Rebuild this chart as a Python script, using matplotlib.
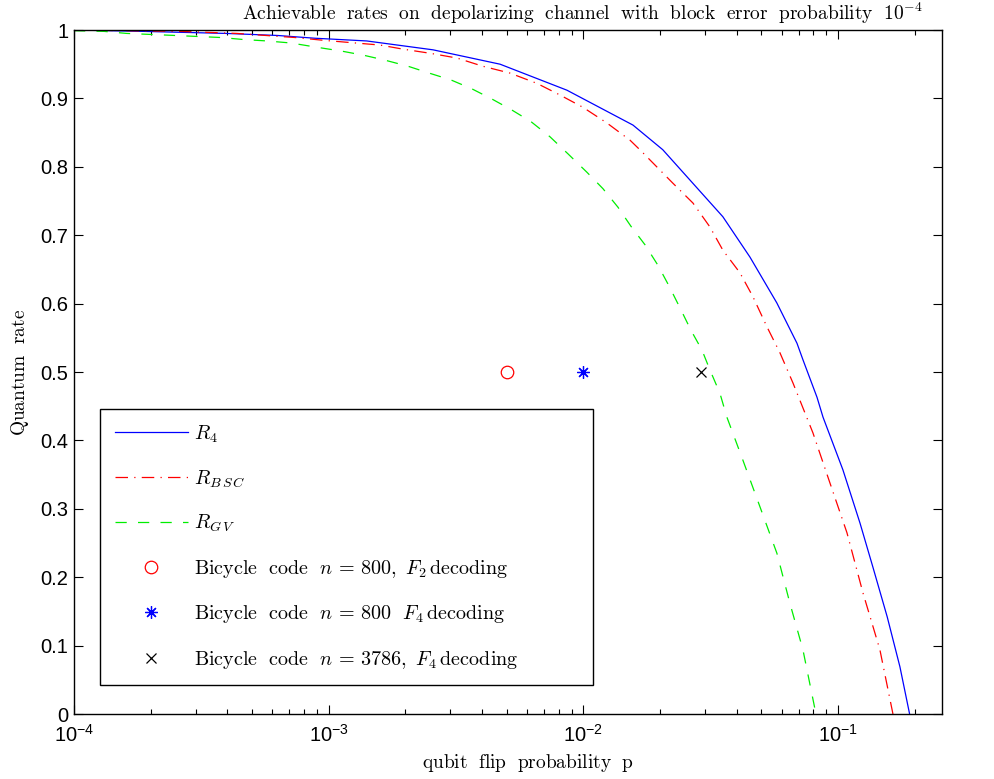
import matplotlib
matplotlib.use('Agg')
import matplotlib.pyplot as plt
from matplotlib.ticker import FixedLocator, FuncFormatter, LogLocator, NullFormatter
import numpy as np

plt.rcParams['font.family'] = ['Liberation Sans', 'DejaVu Sans']
plt.rcParams['mathtext.fontset'] = 'cm'

# ---- data ----
p_r4 = [1e-4, 1.85e-4, 3.95e-4, 6.3e-4, 8.8e-4, 1.41e-3, 2.57e-3, 4.71e-3, 8.62e-3,
        0.01566, 0.0205, 0.0269, 0.0353, 0.0451, 0.0575, 0.0690, 0.0728, 0.0827,
        0.0873, 0.1045, 0.122, 0.137, 0.156, 0.175, 0.191]
r_r4 = [1.0, 0.998, 0.995, 0.992, 0.988, 0.984, 0.971, 0.950, 0.912,
        0.861, 0.825, 0.776, 0.727, 0.668, 0.601, 0.542, 0.518, 0.463,
        0.434, 0.357, 0.279, 0.215, 0.142, 0.069, 0.0]

p_bsc = [1e-4, 2.61e-4, 4.36e-4, 5.67e-4, 7.38e-4, 9.5e-4, 1.59e-3, 1.96e-3, 2.50e-3,
         3.19e-3, 4.03e-3, 5.15e-3, 6.57e-3, 8.09e-3, 9.96e-3, 0.01238, 0.01524,
         0.01698, 0.02247, 0.02694, 0.03141, 0.03532, 0.04120, 0.04634, 0.05260,
         0.05916, 0.06653, 0.07970, 0.0929, 0.1084, 0.1253, 0.1460, 0.1643]
r_bsc = [1.0, 0.998, 0.995, 0.992, 0.989, 0.985, 0.978, 0.972, 0.966,
         0.959, 0.947, 0.937, 0.922, 0.905, 0.887, 0.864, 0.839,
         0.822, 0.776, 0.747, 0.712, 0.678, 0.645, 0.610, 0.566,
         0.528, 0.484, 0.411, 0.338, 0.265, 0.177, 0.094, 0.0]

p_gv = [1e-4, 1.31e-4, 1.61e-4, 2.49e-4, 3.78e-4, 4.65e-4, 5.72e-4, 7.11e-4, 8.91e-4,
        1.13e-3, 1.376e-3, 1.66e-3, 2.05e-3, 2.48e-3, 3.02e-3, 3.65e-3, 4.38e-3,
        5.24e-3, 6.23e-3, 7.39e-3, 8.70e-3, 0.01033, 0.01194, 0.01367, 0.01538,
        0.01746, 0.01963, 0.02168, 0.02394, 0.02646, 0.02923, 0.03141, 0.03437,
        0.03661, 0.04232, 0.04936, 0.05754, 0.06471, 0.07280, 0.08190]
r_gv = [0.999, 0.998, 0.995, 0.992, 0.989, 0.986, 0.984, 0.981, 0.975,
        0.969, 0.963, 0.956, 0.947, 0.937, 0.927, 0.914, 0.899,
        0.883, 0.866, 0.844, 0.819, 0.792, 0.768, 0.741, 0.713,
        0.686, 0.656, 0.626, 0.594, 0.561, 0.532, 0.503, 0.469,
        0.434, 0.371, 0.303, 0.235, 0.162, 0.094, 0.0]

code_p = [0.005, 0.01, 0.029]
code_r = [0.5, 0.5, 0.5]

series_labels = [r'$R_4$', r'$R_{B\,S\,C}$', r'$R_{G\,V}$']
code_labels = [r'$\mathrm{Bicycle\ \ code}\ \ n\,=\,800,\ F_2\,\mathrm{decoding}$',
               r'$\mathrm{Bicycle\ \ code}\ \ n\,=\,800\ \ F_4\,\mathrm{decoding}$',
               r'$\mathrm{Bicycle\ \ code}\ \ n\,=\,3786,\ F_4\,\mathrm{decoding}$']
x_ticks = [1e-4, 1e-3, 1e-2, 1e-1]
y_ticks = [0, 0.1, 0.2, 0.3, 0.4, 0.5, 0.6, 0.7, 0.8, 0.9, 1.0]

title = r'$\mathrm{Achievable\ \ rates\ \ on\ \ depolarizing\ \ channel\ \ with\ \ block\ \ error\ \ probability}\ \ 10^{-4}$'
xlab = r'$\mathrm{qubit\ \ flip\ \ probability\ \ p}$'
ylab = r'$\mathrm{Quantum\ \ rate}$'

# ---- figure ----
W, H = 994, 779
fig = plt.figure(figsize=(W / 100, H / 100), dpi=100)
ax = fig.add_axes([74 / W, (H - 714) / H, 868 / W, 684 / H])

ax.plot(p_r4, r_r4, color='#0000ff', lw=0.9, label=series_labels[0])
ax.plot(p_bsc, r_bsc, color='#ff0000', lw=0.9, dashes=(10, 5, 1, 5), label=series_labels[1])
ax.plot(p_gv, r_gv, color='#00ee00', lw=0.9, dashes=(9, 9), label=series_labels[2])
ax.plot(code_p[0:1], code_r[0:1], ls='none', marker='o', mfc='none', mec='#ff0000',
        ms=9, mew=0.9, label=code_labels[0])
ax.plot(code_p[1:2], code_r[1:2], ls='none', marker=(8, 2, 0), color='#0000ff',
        ms=9, mew=0.9, label=code_labels[1])
ax.plot(code_p[2:3], code_r[2:3], ls='none', marker='x', color='black',
        ms=7, mew=0.9, label=code_labels[2])

ax.set_xscale('log')
ax.set_xlim(1e-4, 0.256)
ax.set_ylim(0, 1)

ax.xaxis.set_major_locator(FixedLocator(x_ticks))
ax.xaxis.set_major_formatter(FuncFormatter(
    lambda v, pos: r'$\mathdefault{10^{%d}}$' % int(round(np.log10(v)))))
ax.xaxis.set_minor_locator(LogLocator(base=10, subs=np.arange(2, 10)))
ax.xaxis.set_minor_formatter(NullFormatter())
ax.yaxis.set_major_locator(FixedLocator(y_ticks))
ax.yaxis.set_major_formatter(FuncFormatter(lambda v, pos: '%g' % round(v, 1)))

ax.tick_params(which='both', direction='in', top=True, right=True, width=0.8,
               labelsize=14.5, color='black')
ax.tick_params(which='major', length=6.5)
ax.tick_params(which='minor', length=3.6)
ax.tick_params(axis='x', pad=7)
ax.tick_params(axis='y', pad=4)
for s in ax.spines.values():
    s.set_linewidth(1.0)
    s.set_color('black')

leg = ax.legend(loc='upper left', bbox_to_anchor=(26 / 868, (714 - 409) / 684, 493 / 868, 0.0),
                mode='expand', borderaxespad=0, fancybox=False, frameon=True,
                edgecolor='black', framealpha=1, handlelength=3.63, handletextpad=0.3,
                labelspacing=1.16, fontsize=14.5, numpoints=1, borderpad=0.72)
leg.get_frame().set_linewidth(1.0)

fig.text(582 / W, 1 - 13 / H, title, ha='center', va='center', fontsize=14)
fig.text(528 / W, 1 - 763 / H, xlab, ha='center', va='center', fontsize=14)
fig.text(20 / W, 1 - 372 / H, ylab, ha='center', va='center', fontsize=14, rotation=90)

fig.savefig('out.png', dpi=100, facecolor='white')
